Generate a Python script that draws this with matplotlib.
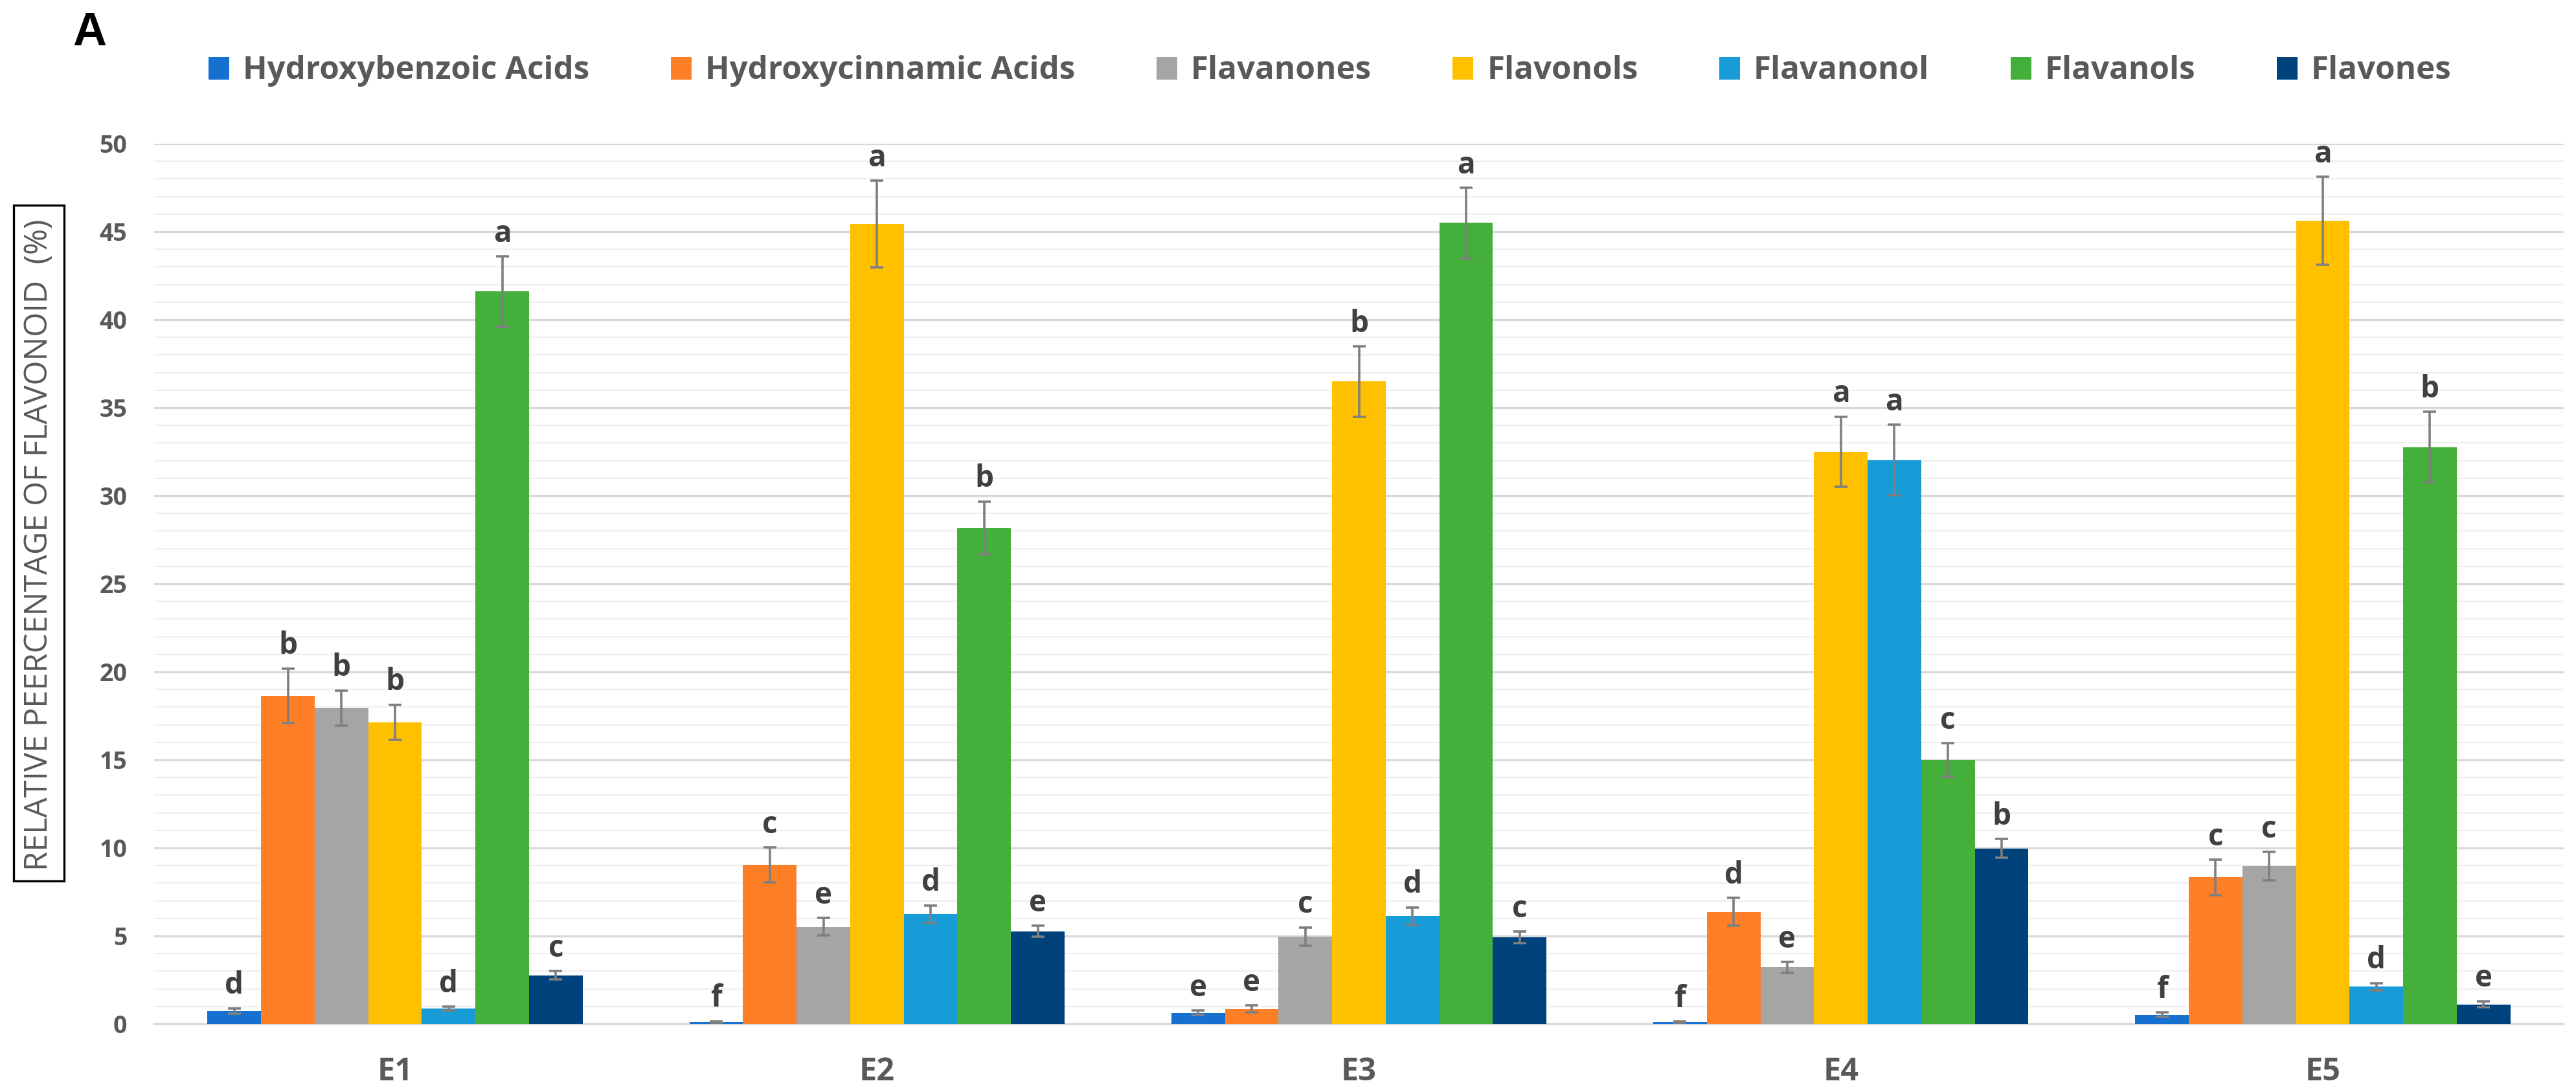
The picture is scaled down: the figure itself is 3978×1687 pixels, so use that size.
import numpy as np
import matplotlib
matplotlib.use("Agg")
import matplotlib.pyplot as plt
from matplotlib.patches import Patch, Rectangle
from matplotlib import font_manager as fm

# ---------------- data ----------------
groups = ["E1", "E2", "E3", "E4", "E5"]
series = ["Hydroxybenzoic Acids", "Hydroxycinnamic Acids", "Flavanones",
          "Flavonols", "Flavanonol", "Flavanols", "Flavones"]

hydroxybenzoic = [0.75, 0.12, 0.64, 0.10, 0.52]
hydroxycinnamic = [18.65, 9.04, 0.86, 6.37, 8.33]
flavanones = [17.95, 5.53, 4.97, 3.22, 8.97]
flavonols = [17.14, 45.44, 36.50, 32.50, 45.63]
flavanonol = [0.88, 6.24, 6.13, 32.04, 2.13]
flavanols = [41.60, 28.18, 45.50, 14.99, 32.77]
flavones = [2.77, 5.27, 4.93, 9.98, 1.12]

err_hydroxybenzoic = [0.15, 0.04, 0.13, 0.04, 0.13]
err_hydroxycinnamic = [1.55, 1.00, 0.19, 0.80, 1.00]
err_flavanones = [1.00, 0.50, 0.52, 0.30, 0.80]
err_flavonols = [1.00, 2.47, 2.00, 2.00, 2.50]
err_flavanonol = [0.12, 0.50, 0.50, 2.00, 0.20]
err_flavanols = [2.00, 1.50, 2.00, 0.95, 2.00]
err_flavones = [0.25, 0.32, 0.32, 0.52, 0.18]

let_hydroxybenzoic = ["d", "f", "e", "f", "f"]
let_hydroxycinnamic = ["b", "c", "e", "d", "c"]
let_flavanones = ["b", "e", "c", "e", "c"]
let_flavonols = ["b", "a", "b", "a", "a"]
let_flavanonol = ["d", "d", "d", "a", "d"]
let_flavanols = ["a", "b", "a", "c", "b"]
let_flavones = ["c", "e", "c", "b", "e"]

yticks = [0, 5, 10, 15, 20, 25, 30, 35, 40, 45, 50]

values = [hydroxybenzoic, hydroxycinnamic, flavanones, flavonols,
          flavanonol, flavanols, flavones]
errors = [err_hydroxybenzoic, err_hydroxycinnamic, err_flavanones,
          err_flavonols, err_flavanonol, err_flavanols, err_flavones]
letters = [let_hydroxybenzoic, let_hydroxycinnamic, let_flavanones,
           let_flavonols, let_flavanonol, let_flavanols, let_flavones]
colors = ["#1570D0", "#FF7F27", "#A5A5A5", "#FFC000", "#189CD8",
          "#45AF3B", "#00427C"]

# ---------------- fonts ----------------
avail = {f.name for f in fm.fontManager.ttflist}
main_font = "Open Sans" if "Open Sans" in avail else "DejaVu Sans"
narrow_font = "Liberation Sans Narrow" if "Liberation Sans Narrow" in avail else main_font
plt.rcParams["font.family"] = [main_font, "DejaVu Sans"]

W, H = 3978, 1687
fig = plt.figure(figsize=(W / 100, H / 100), dpi=100)
fig.patch.set_facecolor("white")

left, right, top, bottom = 238, 3959, 222, 1582
ax = fig.add_axes([left / W, (H - bottom) / H, (right - left) / W, (bottom - top) / H])

x = np.arange(len(groups))
n = len(series)
w = 0.1112
for i in range(n):
    pos = x + (i - (n - 1) / 2) * w
    ax.bar(pos, values[i], width=w, color=colors[i], label=series[i], zorder=3,
           linewidth=0)
    ax.errorbar(pos, values[i], yerr=errors[i], fmt="none", ecolor="#7F7F7F",
                elinewidth=2.6, capsize=7, capthick=2.6, zorder=4)
    for j in range(len(groups)):
        ax.annotate(letters[i][j], (pos[j], values[i][j] + errors[i][j]),
                    xytext=(0, 16), textcoords="offset points",
                    ha="center", va="baseline", fontsize=33, fontweight="bold",
                    color="#404040", zorder=5)

ax.set_xlim(-0.5, len(groups) - 0.5)
ax.set_ylim(0, 50)
ax.set_yticks(yticks)
ax.set_yticks(np.arange(0, 51, 1), minor=True)
ax.set_xticks(x)
ax.set_xticklabels(groups)
ax.grid(axis="y", which="major", color="#D9D9D9", linewidth=2.4, zorder=0)
ax.grid(axis="y", which="minor", color="#EFEFEF", linewidth=1.6, zorder=0)
ax.grid(axis="x", visible=False)
for s in ["top", "right", "left"]:
    ax.spines[s].set_visible(False)
ax.spines["bottom"].set_color("#D9D9D9")
ax.spines["bottom"].set_linewidth(2.6)
ax.spines["bottom"].set_zorder(2)
ax.tick_params(axis="both", which="both", length=0)
ax.tick_params(axis="y", pad=30, labelsize=27, labelcolor="#595959")
ax.tick_params(axis="x", pad=36, labelsize=35, labelcolor="#595959")
for lab in ax.get_yticklabels() + ax.get_xticklabels():
    lab.set_fontweight("bold")

# legend
handles = [Patch(facecolor=c, edgecolor="none") for c in colors]
leg = fig.legend(handles, series, loc="center", ncol=7,
                 bbox_to_anchor=(2054 / W, 1 - 110 / H), frameon=False,
                 handlelength=0.65, handleheight=0.7,
                 handletextpad=0.42, columnspacing=2.55,
                 prop={"weight": "bold", "size": 35.5})
for t in leg.get_texts():
    t.set_color("#595959")

# panel letter
fig.text(112 / W, 1 - 70 / H, "A", fontsize=52, fontweight="bold", color="black",
         ha="left", va="baseline", family=["Liberation Sans", "DejaVu Sans"])

# boxed y-label
bx0, bx1, by0, by1 = 21, 99, 317, 1361
fig.add_artist(Rectangle((bx0 / W, 1 - by1 / H), (bx1 - bx0) / W, (by1 - by0) / H,
                         transform=fig.transFigure, fill=False, edgecolor="black",
                         linewidth=2.4))
ylab = fig.text((bx0 + bx1) / 2 / W, 1 - 842 / H,
                "RELATIVE PEERCENTAGE OF FLAVONOID  (%)", rotation=90,
                ha="center", va="center", fontsize=30, color="#595959",
                family=[narrow_font, "DejaVu Sans"])
fig.canvas.draw()
ext = ylab.get_window_extent()
ylab.set_fontsize(30 * 1007 / ext.height)

fig.savefig("out.png", dpi=100, facecolor="white")
